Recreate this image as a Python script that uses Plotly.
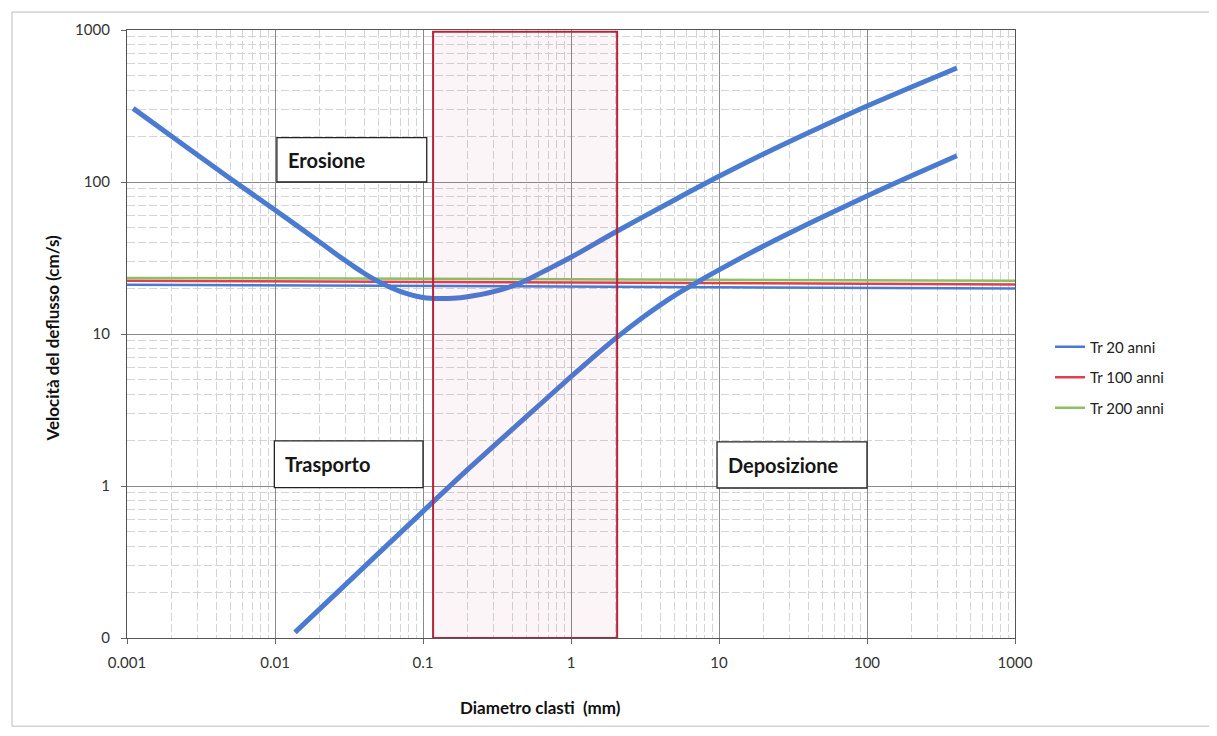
import math
import plotly.graph_objects as go

# ---------------- data ----------------
# Erosion curve (upper Hjulström curve): diameter (mm) -> velocity (cm/s)
ero_x = [0.0011, 0.002, 0.005, 0.01, 0.02, 0.025, 0.03, 0.035, 0.04, 0.045, 0.05,
         0.06, 0.07, 0.08, 0.1, 0.13, 0.16, 0.2, 0.3, 0.43, 0.5, 0.7, 1, 2, 5, 10,
         20, 50, 100, 200, 405]
ero_y = [305, 200, 105, 65.5, 40.3, 34.4, 30.3, 27.3, 25.1, 23.4, 22.1,
         20.3, 19.1, 18.3, 17.4, 17.1, 17.2, 17.6, 19.0, 21.2, 22.6, 26.7, 32.0, 46.9,
         76.2, 109, 153, 233, 316, 422, 562]

# Deposition curve (lower Hjulström curve)
dep_x = [0.01365, 0.02, 0.05, 0.1, 0.2, 0.5, 1, 1.5, 2, 3, 4, 5, 7, 10, 20, 50,
         100, 200, 405]
dep_y = [0.109, 0.155, 0.360, 0.681, 1.28, 2.86, 5.24, 7.39, 9.36, 12.7, 15.5, 17.9,
         21.7, 26.4, 37.9, 58.9, 80.9, 110, 149]

# Flow velocities for return periods (horizontal lines)
line_x = [0.001, 1000]
tr20_y = [21.1, 19.9]
tr100_y = [22.4, 21.2]
tr200_y = [23.4, 22.4]

series_names = ["Tr 20 anni", "Tr 100 anni", "Tr 200 anni"]

# Sand band (red rectangle) in mm
band_x = [0.117, 2.05]
band_y = [0.1, 975]

x_tickvals = [0.001, 0.01, 0.1, 1, 10, 100, 1000]
x_ticktext = ["0.001", "0.01", "0.1", "1", "10", "100", "1000"]
y_tickvals = [0.1, 1, 10, 100, 1000]
y_ticktext = ["0", "1", "10", "100", "1000"]

BLUE = "#4A7BD1"
RED = "#E0404C"
GREEN = "#8DC063"
FONT = "Lato, Open Sans, sans-serif"

fig = go.Figure()

# red band
fig.add_shape(type="rect", xref="x", yref="y",
              x0=band_x[0], x1=band_x[1], y0=band_y[0], y1=band_y[1],
              line=dict(color="#B8203C", width=2),
              fillcolor="rgba(200,60,110,0.05)", layer="above")

for i, (ys, col) in enumerate([(tr20_y, BLUE), (tr100_y, RED), (tr200_y, GREEN)]):
    fig.add_trace(go.Scatter(x=line_x, y=ys, mode="lines", name=series_names[i],
                             legendgroup=f"g{i}", line=dict(color=col, width=2.5)))

fig.add_trace(go.Scatter(x=ero_x, y=ero_y, mode="lines", showlegend=False,
                         line=dict(color=BLUE, width=5, shape="spline", smoothing=0.8)))
fig.add_trace(go.Scatter(x=dep_x, y=dep_y, mode="lines", showlegend=False,
                         line=dict(color=BLUE, width=5, shape="spline", smoothing=0.8)))

# label boxes (x0, x1, y0, y1 in data units)
boxes = [("Erosione", 0.0103, 0.106, 100, 196),
         ("Trasporto", 0.0099, 0.1, 0.975, 1.98),
         ("Deposizione", 9.7, 100, 0.97, 1.95)]
for text, x0, x1, y0, y1 in boxes:
    fig.add_shape(type="rect", xref="x", yref="y", x0=x0, x1=x1, y0=y0, y1=y1,
                  line=dict(color="#222", width=1.3), fillcolor="white", layer="above")
    fig.add_annotation(x=math.log10(x0), y=(math.log10(y0) + math.log10(y1)) / 2,
                       xref="x", yref="y", text=f"<b>{text}</b>",
                       showarrow=False, xanchor="left", yanchor="middle", xshift=9,
                       font=dict(family=FONT, size=20, color="#161616"))

# outer chart frame
fig.add_shape(type="rect", xref="paper", yref="paper",
              x0=-0.1295, x1=1.223, y0=-0.145, y1=1.0295,
              line=dict(color="#bbbbbb", width=1), layer="below")

# axis titles
fig.add_annotation(xref="paper", yref="paper", x=(540 - 127) / 888, y=(638 - 708) / 611,
                   text="<b>Diametro clasti  (mm)</b>", showarrow=False,
                   xanchor="center", yanchor="middle",
                   font=dict(family=FONT, size=17, color="#111"))
fig.add_annotation(xref="paper", yref="paper", x=(52 - 127) / 888, y=(638 - 337) / 611,
                   text="<b>Velocità del deflusso (cm/s)</b>", showarrow=False, textangle=-90,
                   xanchor="center", yanchor="middle",
                   font=dict(family=FONT, size=17, color="#111"))

axis_common = dict(showline=True, linecolor="#555", linewidth=1.2, mirror=True,
                   ticks="outside", ticklen=5, tickcolor="#666",
                   gridcolor="#8a8a8a", gridwidth=1,
                   tickfont=dict(family=FONT, size=15, color="#333"),
                   zeroline=False)

minor_grid = dict(dtick="D1", showgrid=True, gridcolor="#d4d4d4",
                  griddash="8px,3px", gridwidth=1, ticks="")

fig.update_xaxes(type="log", range=[-3, 3], tickvals=x_tickvals, ticktext=x_ticktext,
                 ticklabelstandoff=6, minor=minor_grid, **axis_common)
fig.update_yaxes(type="log", range=[-1, 3], tickvals=y_tickvals, ticktext=y_ticktext,
                 ticklabelstandoff=8, minor=minor_grid, **axis_common)

# page body has an 8px margin, so the figure is sized to sit inside the window
fig.update_layout(width=1209, height=728,
                  margin=dict(l=119, r=202, t=19, b=98),
                  paper_bgcolor="white", plot_bgcolor="white",
                  legend=dict(x=(1050 - 127) / 888, y=(638 - 329) / 611,
                              xanchor="left", yanchor="top",
                              font=dict(family=FONT, size=15, color="#222"),
                              itemwidth=30, tracegroupgap=8, bgcolor="rgba(0,0,0,0)"),
                  showlegend=True)

fig.write_html("out.html")
